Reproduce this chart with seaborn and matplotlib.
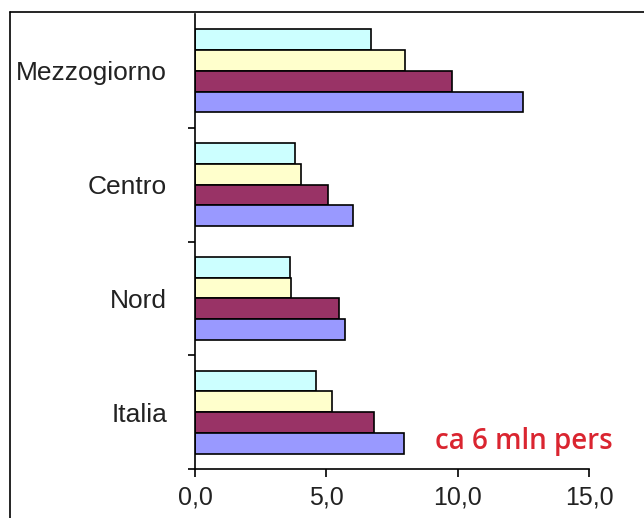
import pandas as pd
import numpy as np
import matplotlib.pyplot as plt
import seaborn as sns
from matplotlib.lines import Line2D

sns.set_style('white')
plt.rcParams['font.family'] = ['Liberation Sans', 'DejaVu Sans']
plt.rcParams['text.color'] = '#222222'
plt.rcParams['xtick.color'] = '#222222'
plt.rcParams['ytick.color'] = '#222222'

# Data (values in %)
regions = ['Mezzogiorno', 'Centro', 'Nord', 'Italia']
series = ['serie 4', 'serie 3', 'serie 2', 'serie 1']
s4 = [6.7, 3.8, 3.6, 4.6]
s3 = [8.0, 4.05, 3.65, 5.2]
s2 = [9.8, 5.05, 5.5, 6.8]
s1 = [12.5, 6.0, 5.7, 7.95]
colors = ['#CCFFFF', '#FFFFCC', '#993366', '#9999FF']
x_ticks = [0, 5, 10, 15]
x_ticklabels = ['0,0', '5,0', '10,0', '15,0']
note = 'ca 6 mln pers'

df = pd.DataFrame({
    'region': regions * 4,
    'serie': [s for s in series for _ in regions],
    'value': s4 + s3 + s2 + s1,
})

fig = plt.figure(figsize=(6.44, 5.18), dpi=100)
ax = fig.add_axes([195 / 644, 1 - 469 / 518, 394 / 644, 455 / 518])

sns.barplot(data=df, y='region', x='value', hue='serie', order=regions,
            hue_order=series, palette=colors, saturation=1, orient='h', width=0.73,
            edgecolor='black', linewidth=1.2, legend=False, ax=ax)

ax.set_xlim(0, 15)
ax.set_ylim(3.5, -0.5)
ax.set_xlabel('')
ax.set_ylabel('')

ax.set_xticks(x_ticks)
ax.set_xticklabels(x_ticklabels, fontsize=18)
ax.tick_params(axis='x', direction='out', length=6, width=1.2, pad=6, bottom=True, color='black')

ax.set_yticks(range(len(regions)))
ax.set_yticklabels(regions, fontsize=19)
ax.tick_params(axis='y', length=0, pad=20)
ax.set_yticks([0.5, 1.5, 2.5, 3.5], minor=True)
ax.tick_params(axis='y', which='minor', direction='out', length=5, width=1.2, left=True, color='black')

for side in ['top', 'right']:
    ax.spines[side].set_visible(False)
for side in ['left', 'bottom']:
    ax.spines[side].set_color('black')
    ax.spines[side].set_linewidth(1.2)

# outer chart frame (cropped screenshot)
fig.add_artist(Line2D([10 / 644, 10 / 644], [0, 1 - 12 / 518], transform=fig.transFigure, color='black', lw=1.2))
fig.add_artist(Line2D([10 / 644, 1], [1 - 12 / 518, 1 - 12 / 518], transform=fig.transFigure, color='black', lw=1.2))

fig.text(524 / 644, 1 - 441 / 518, note, color='#DA2530', fontsize=20, fontweight='semibold',
         family=['Open Sans', 'DejaVu Sans'], ha='center', va='center')

fig.savefig('out.png', dpi=100)
